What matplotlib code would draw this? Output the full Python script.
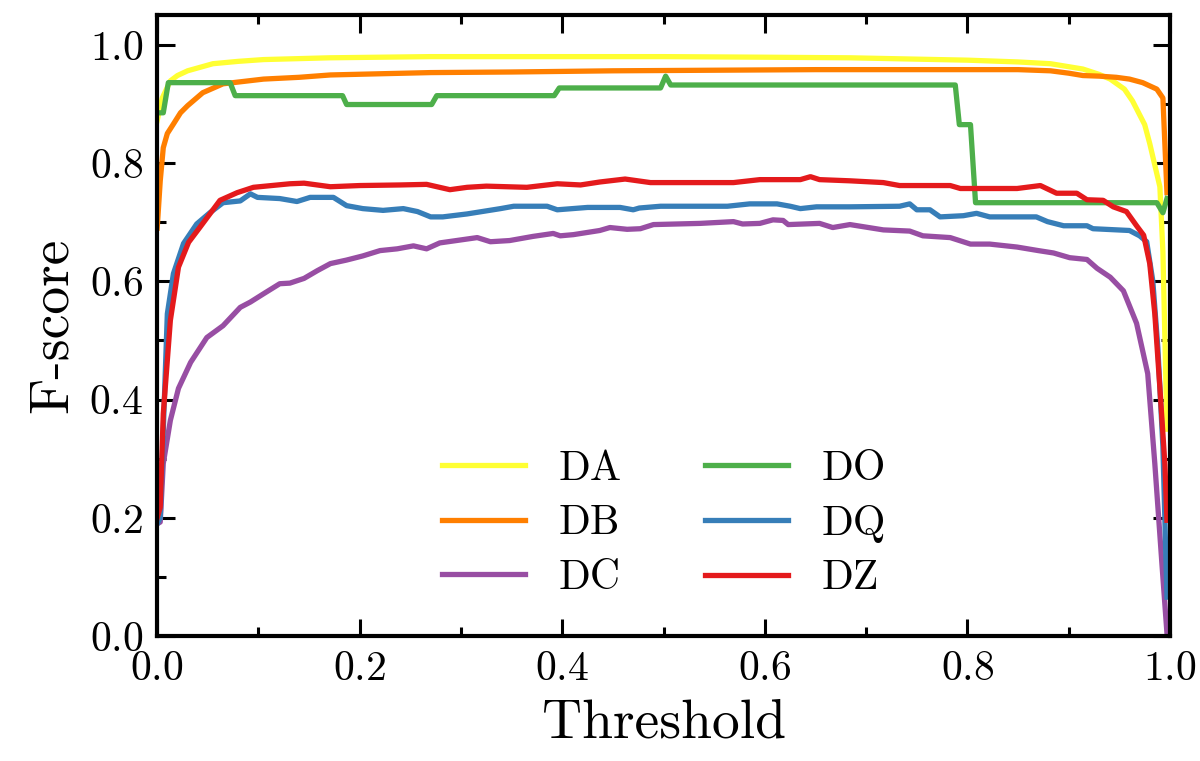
import numpy as np
import matplotlib
matplotlib.use('Agg')
import matplotlib.pyplot as plt
from matplotlib.ticker import MultipleLocator

# F-score vs threshold
thr_da = [0.0, 0.005, 0.013, 0.02, 0.03, 0.055, 0.08, 0.105, 0.17, 0.27, 0.4, 0.5, 0.6, 0.684,
          0.8, 0.85, 0.882, 0.914, 0.93, 0.941, 0.955, 0.963, 0.975, 0.98, 0.99, 0.993, 0.997]
f_da = [0.872, 0.91, 0.939, 0.948, 0.956, 0.968, 0.972, 0.975, 0.978, 0.98, 0.98, 0.98, 0.979, 0.978,
        0.974, 0.971, 0.968, 0.959, 0.95, 0.942, 0.925, 0.905, 0.865, 0.833, 0.76, 0.65, 0.35]

thr_db = [0.0, 0.003, 0.006, 0.01, 0.016, 0.023, 0.03, 0.045, 0.065, 0.085, 0.105, 0.14, 0.171,
          0.22, 0.27, 0.35, 0.45, 0.55, 0.65, 0.75, 0.85, 0.882, 0.9, 0.914, 0.93, 0.947, 0.96,
          0.973, 0.987, 0.993, 0.997]
f_db = [0.69, 0.77, 0.826, 0.85, 0.866, 0.885, 0.897, 0.919, 0.934, 0.938, 0.942, 0.945, 0.949,
        0.951, 0.953, 0.954, 0.956, 0.957, 0.958, 0.958, 0.958, 0.956, 0.952, 0.948, 0.947, 0.945,
        0.942, 0.936, 0.925, 0.91, 0.75]

thr_dc = [0.0, 0.003, 0.006, 0.013, 0.021, 0.033, 0.049, 0.065, 0.082, 0.092, 0.105, 0.121, 0.131,
          0.145, 0.158, 0.171, 0.187, 0.203, 0.22, 0.237, 0.253, 0.266, 0.279, 0.316, 0.329, 0.348,
          0.371, 0.391, 0.398, 0.411, 0.437, 0.447, 0.464, 0.477, 0.49, 0.536, 0.569, 0.578, 0.595,
          0.608, 0.618, 0.623, 0.654, 0.667, 0.684, 0.717, 0.743, 0.756, 0.783, 0.803, 0.822, 0.849,
          0.87, 0.885, 0.901, 0.918, 0.928, 0.941, 0.954, 0.967, 0.978, 0.985, 0.992, 0.997]
f_dc = [0.19, 0.193, 0.292, 0.365, 0.419, 0.463, 0.505, 0.525, 0.556, 0.565, 0.579, 0.596, 0.597,
        0.605, 0.618, 0.63, 0.636, 0.643, 0.652, 0.655, 0.66, 0.655, 0.665, 0.674, 0.667, 0.669,
        0.676, 0.681, 0.677, 0.679, 0.686, 0.691, 0.688, 0.689, 0.696, 0.698, 0.701, 0.697, 0.698,
        0.704, 0.703, 0.696, 0.698, 0.691, 0.696, 0.687, 0.685, 0.677, 0.674, 0.663, 0.663, 0.658,
        0.652, 0.648, 0.64, 0.637, 0.622, 0.607, 0.584, 0.529, 0.444, 0.292, 0.123, 0.005]

thr_do = [0.0, 0.006, 0.011, 0.072, 0.077, 0.183, 0.187, 0.271, 0.276, 0.392, 0.397, 0.497, 0.502,
          0.507, 0.788, 0.792, 0.803, 0.808, 0.987, 0.993, 0.997]
f_do = [0.885, 0.885, 0.936, 0.936, 0.914, 0.914, 0.899, 0.899, 0.914, 0.914, 0.927, 0.927, 0.947,
        0.932, 0.932, 0.865, 0.865, 0.733, 0.733, 0.716, 0.74]

thr_dq = [0.0, 0.003, 0.01, 0.016, 0.026, 0.039, 0.052, 0.065, 0.082, 0.092, 0.099, 0.121, 0.138,
          0.151, 0.174, 0.187, 0.203, 0.223, 0.243, 0.257, 0.27, 0.282, 0.306, 0.339, 0.352, 0.385,
          0.395, 0.425, 0.457, 0.47, 0.476, 0.497, 0.563, 0.585, 0.612, 0.625, 0.635, 0.651, 0.684,
          0.733, 0.743, 0.75, 0.763, 0.773, 0.796, 0.809, 0.822, 0.868, 0.879, 0.895, 0.918, 0.924,
          0.96, 0.97, 0.977, 0.983, 0.988, 0.993, 0.997]
f_dq = [0.19, 0.2, 0.545, 0.613, 0.664, 0.697, 0.716, 0.733, 0.736, 0.748, 0.742, 0.74, 0.735,
        0.742, 0.742, 0.728, 0.723, 0.72, 0.723, 0.718, 0.709, 0.709, 0.714, 0.723, 0.727, 0.727,
        0.721, 0.725, 0.725, 0.721, 0.724, 0.727, 0.727, 0.731, 0.731, 0.727, 0.723, 0.726, 0.726,
        0.727, 0.731, 0.721, 0.721, 0.709, 0.711, 0.715, 0.709, 0.709, 0.701, 0.694, 0.694, 0.689,
        0.686, 0.677, 0.667, 0.601, 0.488, 0.32, 0.066]

thr_dz = [0.0, 0.003, 0.006, 0.013, 0.021, 0.031, 0.042, 0.052, 0.062, 0.079, 0.095, 0.131, 0.145,
          0.171, 0.2, 0.24, 0.266, 0.289, 0.306, 0.325, 0.365, 0.395, 0.418, 0.437, 0.462, 0.487,
          0.569, 0.595, 0.635, 0.645, 0.654, 0.684, 0.717, 0.733, 0.783, 0.793, 0.849, 0.872, 0.888,
          0.908, 0.918, 0.934, 0.944, 0.957, 0.967, 0.974, 0.98, 0.985, 0.99, 0.995, 0.997]
f_dz = [0.2, 0.218, 0.376, 0.534, 0.624, 0.666, 0.691, 0.714, 0.737, 0.75, 0.759, 0.765, 0.766,
        0.76, 0.762, 0.763, 0.764, 0.755, 0.759, 0.761, 0.759, 0.765, 0.763, 0.768, 0.773, 0.767,
        0.767, 0.772, 0.772, 0.777, 0.772, 0.77, 0.767, 0.762, 0.762, 0.757, 0.757, 0.762, 0.749,
        0.749, 0.738, 0.737, 0.726, 0.718, 0.694, 0.678, 0.63, 0.545, 0.42, 0.29, 0.196]

labels = ['DA', 'DB', 'DC', 'DO', 'DQ', 'DZ']
colors = ['#ffff33', '#ff7f00', '#984ea3', '#4daf4a', '#377eb8', '#e41a1c']
series = [(thr_da, f_da), (thr_db, f_db), (thr_dc, f_dc),
          (thr_do, f_do), (thr_dq, f_dq), (thr_dz, f_dz)]

plt.rcParams['font.family'] = 'serif'
plt.rcParams['font.serif'] = ['cmr10']
plt.rcParams['mathtext.fontset'] = 'cm'
plt.rcParams['axes.formatter.use_mathtext'] = True

fig = plt.figure(figsize=(6, 3.805), dpi=200)
ax = fig.add_axes([0.131, 0.164, 0.844, 0.816])

for (t, f), lab, c in zip(series, labels, colors):
    ax.plot(t, f, color=c, lw=1.9, label=lab)

ax.set_xlim(0, 1)
ax.set_ylim(0, 1.05)
ax.xaxis.set_major_locator(MultipleLocator(0.2))
ax.xaxis.set_minor_locator(MultipleLocator(0.1))
ax.yaxis.set_major_locator(MultipleLocator(0.2))
ax.yaxis.set_minor_locator(MultipleLocator(0.1))
ax.tick_params(which='both', direction='in', top=True, right=True, labelsize=15, width=1.1)
ax.tick_params(which='major', length=6.3, pad=5)
ax.tick_params(which='minor', length=3.2)
for sp in ax.spines.values():
    sp.set_linewidth(1.5)

ax.set_xlabel('Threshold', fontsize=20)
ax.set_ylabel('F-score', fontsize=20)

ax.legend(ncol=2, loc='lower center', bbox_to_anchor=(0.5, 0.002), frameon=False,
          fontsize=15, handlelength=2.0, handletextpad=0.8, columnspacing=2.0,
          labelspacing=0.41)

fig.savefig('out.png', dpi=200)
